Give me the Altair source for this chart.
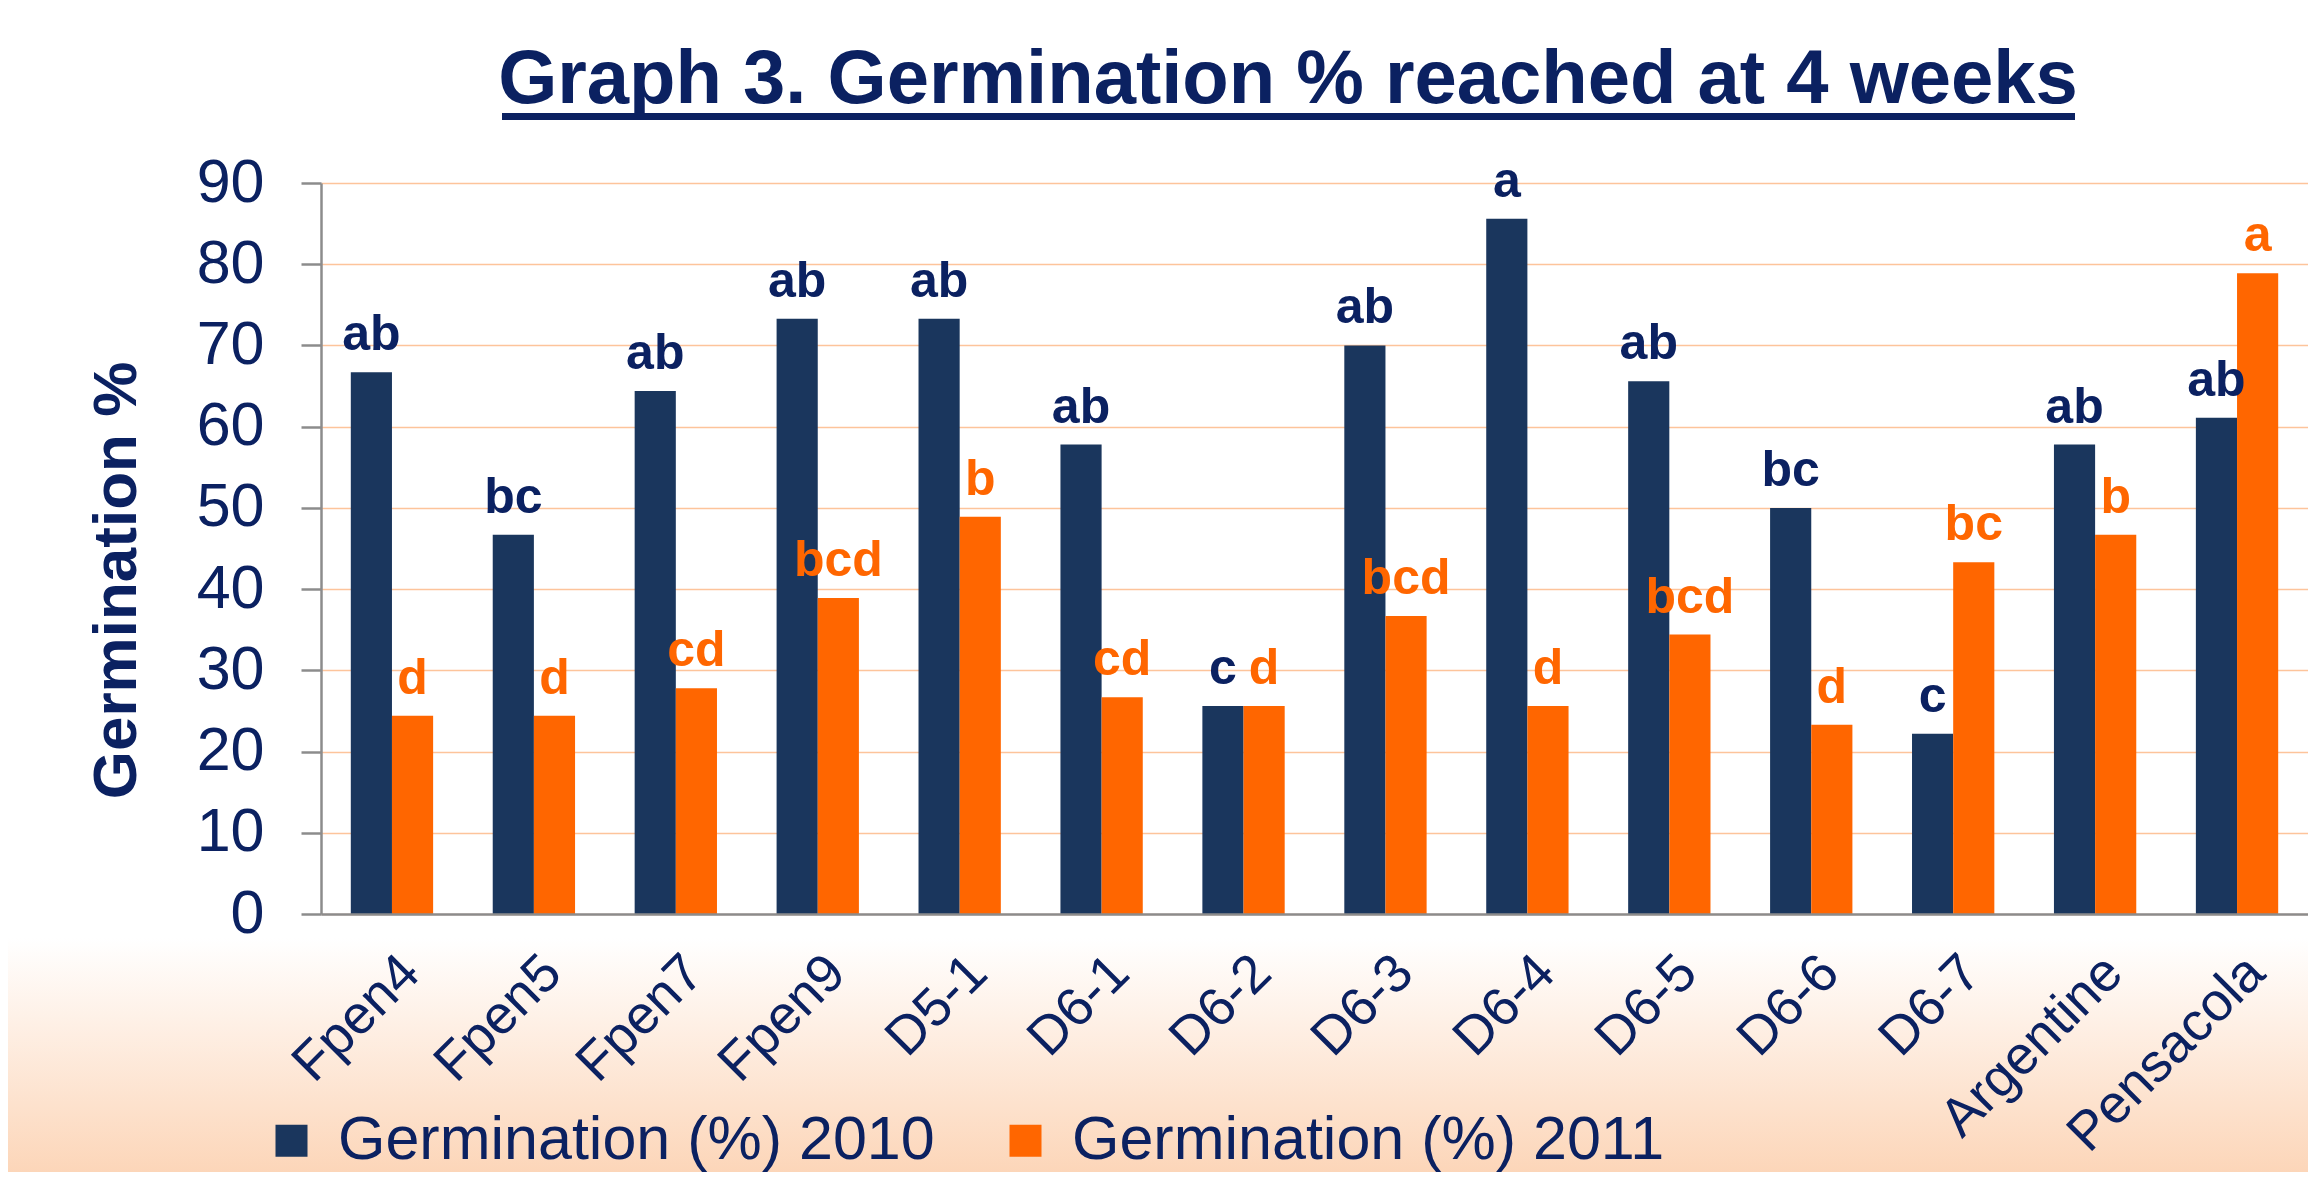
import altair as alt
import pandas as pd

cultivars = ["Fpen4", "Fpen5", "Fpen7", "Fpen9", "D5-1", "D6-1", "D6-2",
             "D6-3", "D6-4", "D6-5", "D6-6", "D6-7", "Argentine", "Pensacola"]
germ_2010 = [66.7, 46.7, 64.4, 73.3, 73.3, 57.8, 25.6, 70.0, 85.6, 65.6, 50.0, 22.2, 57.8, 61.1]
germ_2011 = [24.4, 24.4, 27.8, 38.9, 48.9, 26.7, 25.6, 36.7, 25.6, 34.4, 23.3, 43.3, 46.7, 78.9]
letters_2010 = ["ab", "bc", "ab", "ab", "ab", "ab", "c", "ab", "a", "ab", "bc", "c", "ab", "ab"]
letters_2011 = ["d", "d", "cd", "bcd", "b", "cd", "d", "bcd", "d", "bcd", "d", "bc", "b", "a"]
series_names = ["Germination (%) 2010", "Germination (%) 2011"]
y_ticks = [0, 10, 20, 30, 40, 50, 60, 70, 80, 90]
title_text = "Graph 3. Germination % reached at 4 weeks"
y_title = "Germination %"

NAVY_TEXT = "#0B2161"
BAR_DARK = "#1A365D"
ORANGE = "#FF6600"
GRID = "#FDC49B"
AXIS = "#8C8C8C"
FONT = "Liberation Sans"

rows = []
for i, c in enumerate(cultivars):
    rows.append({"cultivar": c, "series": series_names[0], "value": germ_2010[i], "letter": letters_2010[i]})
    rows.append({"cultivar": c, "series": series_names[1], "value": germ_2011[i], "letter": letters_2011[i]})
df = pd.DataFrame(rows)

W, H = 1987, 731

x_enc = alt.X("cultivar:N", sort=cultivars,
              scale=alt.Scale(paddingInner=0.42, paddingOuter=0.21),
              axis=alt.Axis(title=None, labelAngle=315, labelAlign="right", labelBaseline="top",
                            labelFont=FONT, labelFontSize=54, labelColor=NAVY_TEXT,
                            labelPadding=31, ticks=False, tickSize=0, domainColor=AXIS,
                            domainWidth=2.5, zindex=1, labelOverlap=False, labelLimit=2000))
xoff = alt.XOffset("series:N", sort=series_names, scale=alt.Scale(paddingInner=0, paddingOuter=0))
y_enc = alt.Y("value:Q", scale=alt.Scale(domain=[0, 90], nice=False, zero=True),
              axis=alt.Axis(title=y_title, values=y_ticks, titleFont=FONT, titleFontSize=62,
                            titleFontWeight="bold", titleColor=NAVY_TEXT, titleAngle=270,
                            titleX=-186, titleY=397, titleAlign="center", titleBaseline="alphabetic",
                            labelFont=FONT, labelFontSize=61, labelColor=NAVY_TEXT, labelPadding=37,
                            tickSize=20, tickColor=AXIS, tickWidth=2.5, domainColor=AXIS,
                            domainWidth=2.5, gridColor=GRID, gridWidth=1.6, grid=True))

background = alt.Chart(alt.Data(values=[{"k": 1}])).mark_rect(
    color=alt.LinearGradient(gradient="linear",
                             stops=[alt.GradientStop(color="#FFFFFF", offset=0),
                                    alt.GradientStop(color="#FCD3B4", offset=1)],
                             x1=0, x2=0, y1=0, y2=1)
).encode(x=alt.value(-313), x2=alt.value(W + 10), y=alt.value(755), y2=alt.value(1005))

bars = alt.Chart(df).mark_bar(strokeWidth=0).encode(
    x=x_enc, xOffset=xoff, y=y_enc,
    color=alt.Color("series:N", sort=series_names,
                    scale=alt.Scale(domain=series_names, range=[BAR_DARK, ORANGE]),
                    legend=alt.Legend(title=None, orient="none", legendX=-60, legendY=927,
                                      direction="horizontal", symbolType="square",
                                      symbolSize=1024, symbolStrokeWidth=0,
                                      labelFont=FONT, labelFontSize=61, labelColor=NAVY_TEXT,
                                      labelOffset=16, columnPadding=60, padding=0,
                                      labelLimit=1000))
)

letters = alt.Chart(df).mark_text(font=FONT, fontSize=50, fontWeight="bold",
                                  baseline="alphabetic", dy=-22).encode(
    x=alt.X("cultivar:N", sort=cultivars), xOffset=xoff, y="value:Q", text="letter:N",
    color=alt.Color("series:N", sort=series_names,
                    scale=alt.Scale(domain=series_names, range=[NAVY_TEXT, ORANGE]),
                    legend=None)
)

title = alt.Chart(alt.Data(values=[{"t": title_text}])).mark_text(
    font=FONT, fontSize=76, fontWeight="bold", color=NAVY_TEXT, align="center",
    baseline="alphabetic").encode(x=alt.value(967), y=alt.value(-80), text="t:N")

underline = alt.Chart(alt.Data(values=[{"k": 1}])).mark_rule(
    color=NAVY_TEXT, strokeWidth=7).encode(
    x=alt.value(181), x2=alt.value(1754), y=alt.value(-66.5))

chart = alt.layer(background, bars, letters, title, underline).resolve_scale(
    color="independent").properties(
    width=W, height=H,
    autosize=alt.AutoSizeParams(type="none"),
    padding={"left": 313, "top": 175, "right": 0, "bottom": 258},
    background="white"
).configure_view(stroke=None)

chart.save("out.html", embed_options={"renderer": "svg", "actions": False})
